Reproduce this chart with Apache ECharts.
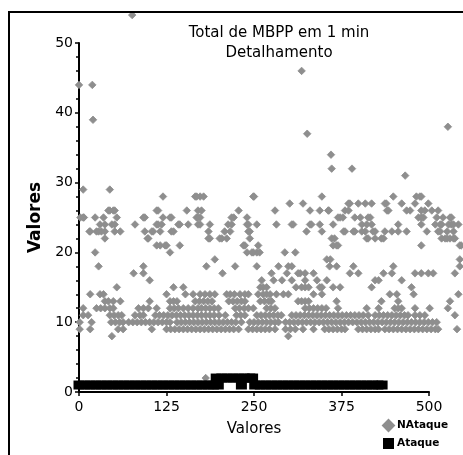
<!DOCTYPE html>
<html>
<head>
<meta charset="utf-8">
<script src="https://cdn.jsdelivr.net/npm/echarts@6/dist/echarts.min.js"></script>
<style>html,body{margin:0;padding:0;background:#fff}#c{width:463px;height:455px}</style>
</head>
<body>
<div id="c"></div>
<script>
// ---- Data ----
const titleLines = ['Total de MBPP em 1 min', 'Detalhamento'];
const xTicks = [0, 125, 250, 375, 500];
const yTicks = [0, 10, 20, 30, 40, 50];
const seriesNames = ['NAtaque', 'Ataque'];

// NAtaque: x positions for each y value
const lvl9  = [1, 16, 56, 63, 104, 125, 131, 137, 143, 149, 155, 161, 167, 173, 179, 185, 191, 197, 203, 209, 215, 221, 228, 242, 248, 254, 260, 266, 272, 280, 295, 302, 309, 320, 335, 351, 357, 363, 369, 375, 380, 399, 405, 411, 417, 423, 428, 437, 443, 449, 455, 461, 467, 473, 479, 485, 491, 497, 503, 509, 513, 540];
const lvl10 = [1, 18, 46, 52, 58, 63, 71, 77, 83, 89, 95, 101, 107, 113, 119, 125, 130, 140, 146, 152, 158, 164, 170, 176, 182, 188, 194, 200, 206, 212, 218, 224, 232, 244, 250, 256, 262, 268, 274, 280, 285, 295, 301, 307, 313, 319, 325, 331, 337, 343, 349, 355, 361, 367, 373, 379, 385, 391, 397, 403, 409, 415, 421, 427, 433, 439, 445, 451, 457, 463, 469, 475, 481, 487, 493, 499, 505, 511];
const lvl11 = [6, 13, 44, 50, 56, 61, 80, 87, 92, 109, 115, 121, 127, 133, 139, 145, 151, 157, 163, 169, 175, 181, 187, 193, 200, 209, 225, 231, 237, 254, 260, 266, 272, 278, 284, 289, 304, 310, 316, 322, 328, 334, 340, 346, 352, 358, 364, 370, 376, 382, 388, 394, 400, 406, 413, 423, 429, 435, 441, 447, 453, 459, 465, 470, 480, 487, 494, 537];
const lvl12 = [6, 25, 31, 37, 44, 49, 85, 92, 99, 111, 130, 136, 142, 149, 156, 163, 170, 175, 181, 187, 193, 199, 223, 229, 236, 242, 249, 268, 274, 280, 323, 329, 335, 341, 347, 353, 370, 411, 428, 451, 456, 461, 480, 501, 527];
const lvl13 = [37, 42, 49, 59, 101, 130, 135, 140, 166, 172, 178, 184, 190, 214, 220, 226, 232, 237, 259, 265, 271, 275, 313, 318, 323, 328, 368, 432, 456, 530];
const lvl14 = [16, 30, 35, 125, 152, 163, 173, 180, 187, 194, 211, 216, 222, 230, 237, 242, 256, 263, 268, 273, 282, 292, 299, 335, 347, 444, 454, 478, 542];
const lvl15 = [54, 135, 149, 259, 263, 268, 310, 318, 323, 328, 344, 347, 363, 373, 418, 475];
const lvl16 = [101, 261, 278, 290, 304, 323, 340, 354, 423, 428, 461];
const lvl17 = [78, 92, 205, 275, 297, 313, 316, 323, 335, 387, 399, 435, 447, 480, 489, 499, 506, 537];
const lvl18 = [28, 92, 182, 223, 254, 285, 299, 304, 358, 368, 392, 449, 544];
const lvl19 = [194, 354, 359, 544];
const lvl20 = [23, 130, 240, 247, 249, 254, 258, 294, 309];
const lvl21 = [111, 116, 123, 125, 144, 235, 237, 256, 363, 368, 370, 489, 544, 546];
const lvl22 = [37, 98, 99, 185, 187, 201, 204, 211, 244, 361, 365, 411, 413, 423, 432, 435, 518, 523, 526, 530, 535, 537];
const lvl23 = [15, 16, 25, 28, 32, 37, 51, 59, 94, 104, 106, 116, 132, 135, 185, 208, 216, 242, 244, 325, 347, 378, 380, 392, 394, 404, 409, 420, 423, 437, 447, 456, 468, 497, 513, 516, 526, 535];
const lvl24 = [30, 37, 47, 51, 80, 111, 113, 118, 142, 144, 156, 170, 173, 187, 213, 218, 240, 242, 254, 282, 304, 306, 330, 332, 344, 363, 404, 411, 418, 456, 489, 509, 516, 518, 528, 532, 535, 542];
const lvl25 = [2, 6, 7, 23, 35, 54, 92, 94, 120, 130, 132, 168, 170, 173, 218, 221, 240, 370, 373, 377, 394, 402, 413, 416, 485, 489, 492, 511, 520, 530, 532];
const lvl26 = [42, 44, 49, 51, 111, 113, 154, 170, 175, 228, 280, 330, 344, 356, 357, 380, 385, 440, 442, 468, 473, 489, 494, 504, 513];
const lvl27 = [301, 320, 385, 387, 399, 409, 418, 437, 439, 461, 480, 499];
const lvl28 = [120, 166, 168, 173, 178, 249, 250, 347, 449, 482, 487, 489];
const lvl29 = [6, 44];
const lvl8  = [47, 299];
const nataqueOutliers = [[0, 44], [19, 44], [20, 39], [76, 54], [318, 46], [326, 37], [360, 34], [361, 32], [390, 32], [466, 31], [527, 38], [181, 2]];

// Ataque: x positions at value 1 and value 2
const ataqueAt1 = [0, 8, 16, 24, 32, 40, 48, 56, 64, 72, 80, 88, 96, 104, 112, 120, 128, 136, 144, 152, 160, 168, 176, 184, 192, 199, 232, 251, 259, 267, 275, 283, 291, 299, 307, 315, 323, 331, 339, 347, 355, 363, 371, 379, 387, 395, 403, 411, 419, 427, 433];
const ataqueAt2 = [196, 204, 212, 220, 228, 236, 244, 248];

// ---- build series data ----
const levels = {8: lvl8, 9: lvl9, 10: lvl10, 11: lvl11, 12: lvl12, 13: lvl13, 14: lvl14, 15: lvl15, 16: lvl16, 17: lvl17, 18: lvl18, 19: lvl19, 20: lvl20, 21: lvl21, 22: lvl22, 23: lvl23, 24: lvl24, 25: lvl25, 26: lvl26, 27: lvl27, 28: lvl28, 29: lvl29};
const nataqueData = [];
Object.keys(levels).forEach(k => levels[k].forEach(x => nataqueData.push([x, Number(k)])));
nataqueOutliers.forEach(p => nataqueData.push(p));
const ataqueData = ataqueAt1.map(x => [x, 1]).concat(ataqueAt2.map(x => [x, 2]));

const FONT = 'DejaVu Sans';
const chart = echarts.init(document.getElementById('c'), null, {renderer: 'canvas'});
chart.setOption({
  animation: false,
  backgroundColor: '#fff',
  textStyle: {fontFamily: FONT, color: '#000'},
  grid: {left: 79, right: 34, top: 43, bottom: 63, containLabel: false},
  graphic: [
    {type: 'rect', shape: {x: 9, y: 12, width: 480, height: 480}, style: {fill: null, stroke: '#000', lineWidth: 2}, silent: true, z: 100},
    {type: 'text', x: 279, y: 33, style: {text: titleLines[0], font: '15px "DejaVu Sans"', fill: '#000', textAlign: 'center', textVerticalAlign: 'middle'}},
    {type: 'text', x: 279, y: 53, style: {text: titleLines[1], font: '15px "DejaVu Sans"', fill: '#000', textAlign: 'center', textVerticalAlign: 'middle'}}
  ],
  legend: {
    orient: 'vertical', left: 382, top: 419, padding: 0, itemWidth: 11, itemHeight: 11, itemGap: 6,
    textStyle: {fontFamily: FONT, fontSize: 10.5, fontWeight: 'bold', color: '#000', padding: [0, 0, 0, -2]},
    data: [{name: seriesNames[0], icon: 'diamond'}, {name: seriesNames[1], icon: 'rect'}]
  },
  xAxis: {
    type: 'value', min: xTicks[0], max: xTicks[xTicks.length - 1], interval: 125,
    name: 'Valores', nameLocation: 'middle', nameGap: 30,
    nameTextStyle: {fontFamily: FONT, fontSize: 15, color: '#000'},
    axisLine: {show: true, onZero: false, lineStyle: {color: '#000', width: 2}},
    axisTick: {show: true, length: 4, lineStyle: {color: '#000', width: 1.5}},
    axisLabel: {fontFamily: FONT, fontSize: 14, color: '#000', margin: 8},
    splitLine: {show: false}
  },
  yAxis: {
    type: 'value', min: yTicks[0], max: yTicks[yTicks.length - 1], interval: 10,
    name: 'Valores', nameLocation: 'middle', nameGap: 20,
    nameTextStyle: {fontFamily: FONT, fontSize: 17, fontWeight: 'bold', color: '#000'},
    axisLine: {show: true, onZero: false, lineStyle: {color: '#000', width: 2}},
    axisTick: {show: true, length: 4, lineStyle: {color: '#000', width: 1.5}},
    minorTick: {show: true, splitNumber: 5, length: 3, lineStyle: {color: '#000', width: 1.5}},
    axisLabel: {fontFamily: FONT, fontSize: 14, color: '#000', margin: 6},
    splitLine: {show: false}
  },
  series: [
    {name: seriesNames[0], type: 'scatter', symbol: 'diamond', symbolSize: 7.5, clip: false,
     itemStyle: {color: '#8e8e8e', opacity: 1, borderWidth: 0.8, borderColor: '#8e8e8e'}, data: nataqueData, z: 2},
    {name: seriesNames[1], type: 'scatter', symbol: 'rect', symbolSize: [11, 9], clip: false, large: false,
     itemStyle: {color: '#000', opacity: 1, borderWidth: 0}, emphasis: {disabled: true}, data: ataqueData, z: 3}
  ]
});
</script>
</body>
</html>
